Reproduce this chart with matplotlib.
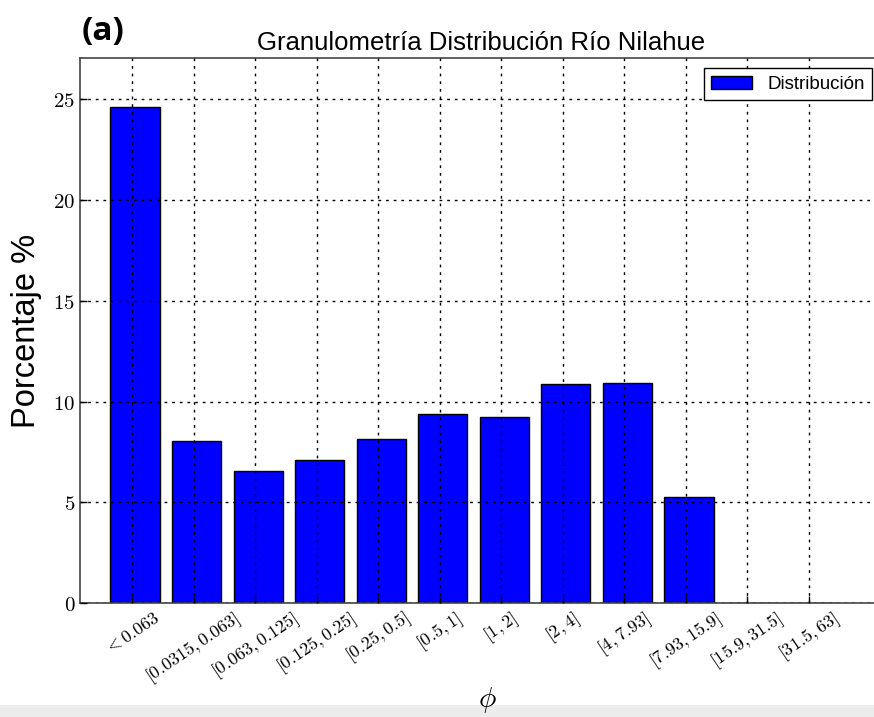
import matplotlib
matplotlib.use("Agg")
import matplotlib.pyplot as plt
import numpy as np
from matplotlib.patches import Rectangle

categories = [r"$<0.063$", r"$[0.0315,0.063]$", r"$[0.063,0.125]$", r"$[0.125,0.25]$",
              r"$[0.25,0.5]$", r"$[0.5,1]$", r"$[1,2]$", r"$[2,4]$", r"$[4,7.93]$",
              r"$[7.93,15.9]$", r"$[15.9,31.5]$", r"$[31.5,63]$"]
values = [24.6, 8.05, 6.55, 7.1, 8.15, 9.38, 9.24, 10.88, 10.93, 5.25, 0.0, 0.0]
yticks = [0, 5, 10, 15, 20, 25]

plt.rcParams['mathtext.fontset'] = 'cm'

fig = plt.figure(figsize=(8.74, 7.17), dpi=100)
fig.patch.set_facecolor('white')
ax = fig.add_axes([80/874, 114/717, 1 - 80/874 + 0.01, (603-58)/717])

x = np.arange(len(categories))
ax.bar(x + 0.05, values, width=0.8, color='#0000ff', edgecolor='black',
       linewidth=1.0, label='Distribución', zorder=2)

ax.set_xlim(-0.845, 12.2)
ax.set_ylim(0, 27.05)
ax.set_xticks(x)
ax.set_xticklabels(categories, rotation=34, ha='center', fontsize=13)
ax.set_yticks(yticks)
ax.set_yticklabels([rf"${v}$" for v in yticks], fontsize=15)
ax.tick_params(axis='both', direction='in', length=5, width=1, colors='black')
ax.tick_params(axis='x', pad=4)
ax.grid(True, linestyle=(0, (2, 3.5)), color='black', linewidth=1.0, zorder=3)
ax.set_axisbelow(False)
for sp in ax.spines.values():
    sp.set_color('#444444')
    sp.set_linewidth(1.2)

ax.set_title('Granulometría Distribución Río Nilahue', fontsize=18.5,
             family='Liberation Sans', pad=6)
ax.set_ylabel('Porcentaje %', fontsize=23.5, family='Liberation Sans', labelpad=8)
ax.set_xlabel(r'$\phi$', fontsize=21)
ax.xaxis.set_label_coords((487 - 80) / (874 * (1 - 80/874 + 0.01)), -(700 - 603) / 545,
                          transform=ax.transAxes)
ax.xaxis.label.set_va('center')

leg = ax.legend(loc='upper right', fancybox=False, framealpha=1,
                edgecolor='black', borderaxespad=0.55, handlelength=2.2,
                prop={'family': 'Liberation Sans', 'size': 13.5})
leg.get_frame().set_linewidth(1.0)

fig.text(82/874, 1 - 40/717, '(a)', fontsize=24, fontweight='bold',
         family='Open Sans')

fig.patches.append(Rectangle((0, 0), 1, 12/717, transform=fig.transFigure,
                             facecolor='#ececec', edgecolor='none', zorder=-1))

fig.savefig('out.png', dpi=100)
